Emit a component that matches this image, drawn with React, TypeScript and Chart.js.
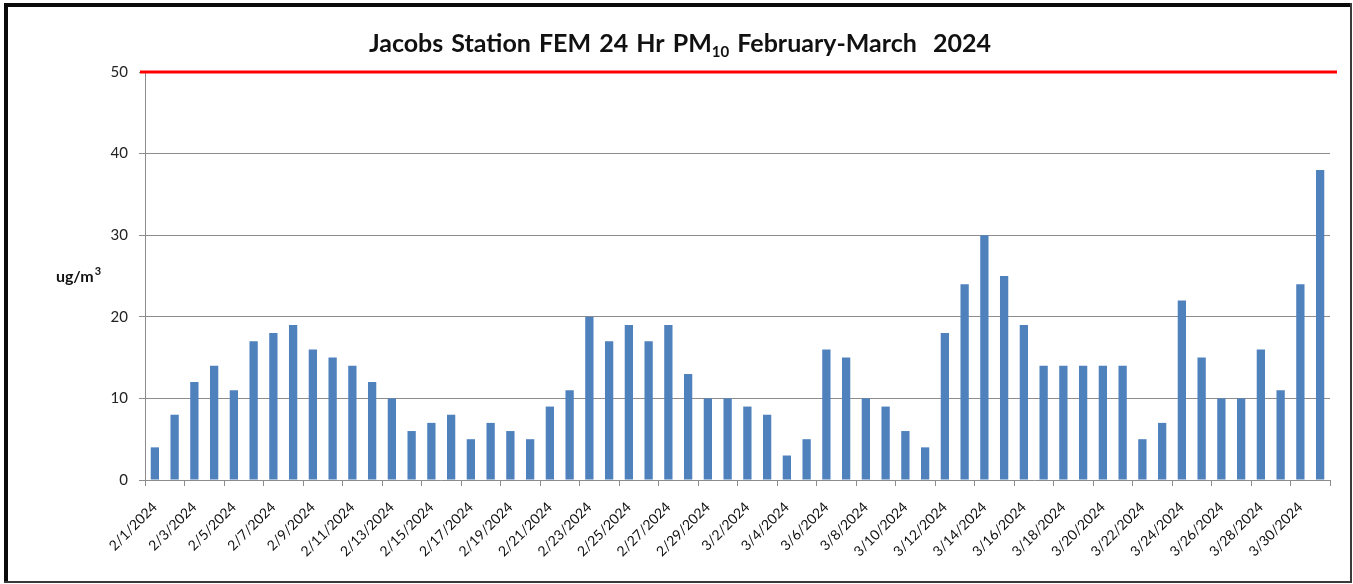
import React, { useEffect, useRef } from 'react';
import { Chart, registerables } from 'chart.js';

Chart.register(...registerables);

const categories: string[] = [
  '2/1/2024', '2/2/2024', '2/3/2024', '2/4/2024', '2/5/2024', '2/6/2024', '2/7/2024', '2/8/2024',
  '2/9/2024', '2/10/2024', '2/11/2024', '2/12/2024', '2/13/2024', '2/14/2024', '2/15/2024', '2/16/2024',
  '2/17/2024', '2/18/2024', '2/19/2024', '2/20/2024', '2/21/2024', '2/22/2024', '2/23/2024', '2/24/2024',
  '2/25/2024', '2/26/2024', '2/27/2024', '2/28/2024', '2/29/2024',
  '3/1/2024', '3/2/2024', '3/3/2024', '3/4/2024', '3/5/2024', '3/6/2024', '3/7/2024', '3/8/2024',
  '3/9/2024', '3/10/2024', '3/11/2024', '3/12/2024', '3/13/2024', '3/14/2024', '3/15/2024', '3/16/2024',
  '3/17/2024', '3/18/2024', '3/19/2024', '3/20/2024', '3/21/2024', '3/22/2024', '3/23/2024', '3/24/2024',
  '3/25/2024', '3/26/2024', '3/27/2024', '3/28/2024', '3/29/2024', '3/30/2024', '3/31/2024',
];

const pm10Values: number[] = [
  4, 8, 12, 14, 11, 17, 18, 19, 16, 15, 14, 12, 10, 6, 7, 8, 5, 7, 6, 5, 9, 11, 20, 17, 19, 17, 19, 13, 10,
  10, 9, 8, 3, 5, 16, 15, 10, 9, 6, 4, 18, 24, 30, 25, 19, 14, 14, 14, 14, 14, 5, 7, 22, 15, 10, 10, 16, 11, 24, 38,
];

const yTicks: number[] = [0, 10, 20, 30, 40, 50];
const standardLimit = 50;

const titleMain = 'Jacobs Station FEM 24 Hr PM';
const titleSub = '10';
const titleRest = ' February-March  2024';
const yAxisLabel = 'ug/m';
const yAxisLabelSup = '3';

const FONT = 'Lato, "Open Sans", sans-serif';

const decorPlugin = {
  id: 'decor',
  beforeDraw(chart: any) {
    const ctx = chart.ctx;
    const w = chart.width;
    const h = chart.height;
    ctx.save();
    ctx.fillStyle = '#ffffff';
    ctx.fillRect(0, 0, w, h);
    ctx.fillStyle = '#0a0a0a';
    ctx.fillRect(4, 3, w - 6, 4);
    ctx.fillRect(4, 3, 4, h - 4);
    ctx.fillStyle = '#3a3a3a';
    ctx.fillRect(w - 3, 3, 2, h - 4);
    ctx.fillRect(4, h - 3, w - 6, 2);
    ctx.restore();
  },
  afterDatasetsDraw(chart: any) {
    const ctx = chart.ctx;
    const { left, right } = chart.chartArea;
    const yScale = chart.scales.y;
    const y = yScale.getPixelForValue(standardLimit);
    ctx.save();
    ctx.strokeStyle = '#ff0000';
    ctx.lineWidth = 3;
    ctx.beginPath();
    ctx.moveTo(left - 5, y);
    ctx.lineTo(right + 7, y);
    ctx.stroke();
    ctx.restore();
  },
  afterDraw(chart: any) {
    const ctx = chart.ctx;
    ctx.save();
    ctx.fillStyle = '#111111';
    ctx.textBaseline = 'alphabetic';
    try {
      (ctx as any).wordSpacing = '2px';
    } catch (e) {
      /* ignore */
    }
    const mainFont = `bold 25px ${FONT}`;
    const subFont = `bold 15px ${FONT}`;
    ctx.font = mainFont;
    const w1 = ctx.measureText(titleMain).width;
    const w3 = ctx.measureText(titleRest).width;
    ctx.font = subFont;
    const w2 = ctx.measureText(titleSub).width;
    const total = w1 + w2 + w3;
    const cx = 680;
    let x = cx - total / 2;
    const baseY = 52;
    ctx.textAlign = 'left';
    ctx.font = mainFont;
    ctx.fillText(titleMain, x, baseY);
    x += w1;
    ctx.font = subFont;
    ctx.fillText(titleSub, x, baseY + 5);
    x += w2;
    ctx.font = mainFont;
    ctx.fillText(titleRest, x, baseY);
    try {
      (ctx as any).wordSpacing = '0px';
    } catch (e) {
      /* ignore */
    }

    const { top, bottom } = chart.chartArea;
    const midY = (top + bottom) / 2;
    const labFont = `bold 16px ${FONT}`;
    const supFont = `bold 11px ${FONT}`;
    ctx.font = labFont;
    const lw = ctx.measureText(yAxisLabel).width;
    ctx.font = supFont;
    const sw = ctx.measureText(yAxisLabelSup).width;
    const lx = 78 - (lw + sw) / 2;
    ctx.font = labFont;
    ctx.fillText(yAxisLabel, lx, midY + 6);
    ctx.font = supFont;
    ctx.fillText(yAxisLabelSup, lx + lw + 1, midY - 1);
    ctx.restore();
  },
};

export default function App() {
  const canvasRef = useRef<HTMLCanvasElement | null>(null);

  useEffect(() => {
    document.body.style.margin = '0';
    document.body.style.overflow = 'hidden';
    const canvas = canvasRef.current;
    if (!canvas) return;
    const chart = new Chart(canvas, {
      type: 'bar',
      data: {
        labels: categories,
        datasets: [
          {
            label: 'PM10',
            data: pm10Values,
            backgroundColor: '#4F81BD',
            borderWidth: 0,
            barPercentage: 0.42,
            categoryPercentage: 1,
          },
        ],
      },
      options: {
        animation: false,
        responsive: false,
        devicePixelRatio: 1,
        layout: { padding: { top: 72, left: 10, right: 23, bottom: 10 } },
        plugins: {
          legend: { display: false },
          title: { display: false },
          tooltip: { enabled: false },
        },
        scales: {
          x: {
            offset: true,
            grid: {
              offset: true,
              drawOnChartArea: false,
              drawTicks: true,
              tickLength: 6,
              tickColor: (ctx: any) =>
                ctx.index === undefined || ctx.index % 2 === 0 ? '#8c8c8c' : 'rgba(0,0,0,0)',
              lineWidth: 1,
            },
            border: { display: true, color: '#8c8c8c', width: 1 },
            ticks: {
              autoSkip: false,
              minRotation: 45,
              maxRotation: 45,
              padding: 13,
              color: '#111111',
              font: { family: FONT, size: 14 },
              callback: (_v: any, i: number) => (i % 2 === 0 ? categories[i] : ''),
            },
            afterFit: (scale: any) => {
              scale.height = 94;
            },
          },
          y: {
            min: 0,
            max: 50,
            afterBuildTicks: (scale: any) => {
              scale.ticks = yTicks.map((v) => ({ value: v }));
            },
            grid: {
              color: (ctx: any) =>
                ctx.tick && (ctx.tick.value === standardLimit || ctx.tick.value === 0)
                  ? 'rgba(0,0,0,0)'
                  : '#8c8c8c',
              tickColor: '#8c8c8c',
              tickLength: 6,
              lineWidth: 1,
            },
            border: { display: true, color: '#8c8c8c', width: 1 },
            ticks: {
              padding: 11,
              color: '#222222',
              font: { family: FONT, size: 15 },
            },
            afterFit: (scale: any) => {
              scale.width = 135;
            },
          },
        },
      },
      plugins: [decorPlugin],
    });
    return () => chart.destroy();
  }, []);

  return (
    <div style={{ width: 1353, height: 584, overflow: 'hidden' }}>
      <canvas ref={canvasRef} width={1353} height={584} style={{ display: 'block' }} />
    </div>
  );
}
